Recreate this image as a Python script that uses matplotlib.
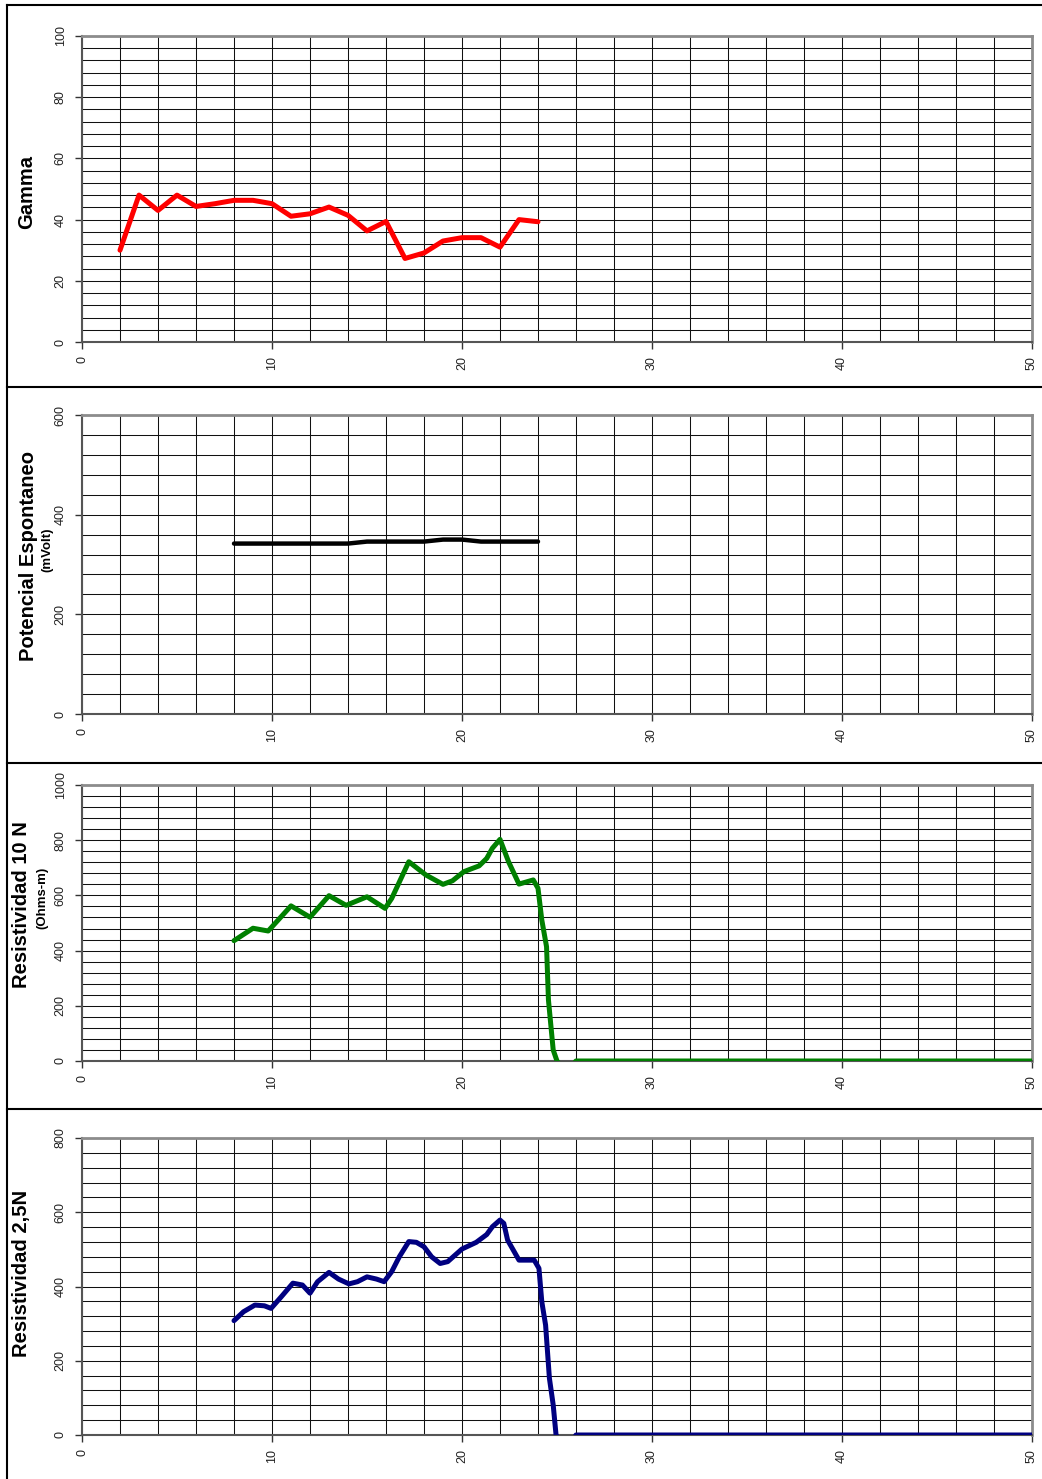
import matplotlib
matplotlib.use("Agg")
import matplotlib.pyplot as plt
from matplotlib.lines import Line2D
from matplotlib.ticker import MultipleLocator

plt.rcParams['font.family'] = ['Liberation Sans', 'DejaVu Sans']

gamma_depth = [2, 3, 4, 5, 6, 7, 8, 9, 10, 11, 12, 13, 14, 15, 16, 17, 18, 19, 20, 21, 22, 23, 24]
gamma = [30, 48, 43, 48, 44.3, 45.2, 46.3, 46.3, 45.2, 41.1, 41.9, 44.1, 41.4, 36.3, 39.4,
         27.3, 29.1, 33, 34.1, 34.1, 31, 40, 39.3]

sp_depth = [8, 9, 10, 11, 12, 13, 14, 15, 16, 17, 18, 19, 20, 21, 22, 23, 24]
sp = [342, 342, 342, 342, 342, 342, 342, 346, 346, 346, 346, 350, 350, 346, 346, 346, 346]

res10_depth = [8, 9, 9.8, 11, 12, 13, 13.9, 15, 15.95, 16.3,
               17.2, 18.1, 19, 19.5, 20.1, 20.9, 21.3, 21.6, 22, 22.45,
               23, 23.75, 24, 24.2, 24.45, 24.55, 24.8, 25, 25.5, 26,
               30, 35, 40, 45, 50]
res10 = [436, 481, 471, 562, 521, 599, 564, 595, 553, 589,
         722, 674, 640, 653, 686, 707, 734, 771, 803, 722,
         641, 656, 626, 511, 414, 221, 40, 0, -40, 0,
         0, 0, 0, 0, 0]

res25_depth = [8, 8.5, 9.1, 9.6, 9.95, 10.5, 11.1, 11.6, 12, 12.4,
               13, 13.5, 14.05, 14.5, 15, 15.5, 15.9, 16.3, 16.7, 17.2,
               17.6, 18, 18.4, 18.85, 19.25, 20, 20.75, 21.3, 21.6, 22,
               22.2, 22.4, 23, 23.8, 24.05, 24.2, 24.4, 24.6, 24.8, 24.95,
               25.5, 26, 30, 35, 40, 45, 50]
res25 = [308, 332, 350, 348, 341, 373, 409, 404, 382, 413,
         438, 420, 407, 413, 426, 420, 413, 440, 480, 521,
         519, 507, 480, 462, 467, 501, 519, 540, 561, 579,
         570, 525, 471, 471, 449, 359, 296, 153, 81, 0,
         -40, 0, 0, 0, 0, 0, 0]

W, H = 1042, 1479
fig = plt.figure(figsize=(W / 100, H / 100), dpi=100)


def px_axes(top, bottom, left=82, right=1032):
    return fig.add_axes([left / W, 1 - bottom / H, (right - left) / W, (bottom - top) / H])


panels = [
    dict(top=36, bottom=342, x=gamma_depth, y=gamma, color='#ff0000', lw=3.6, ymax=100, minor=4, major=20),
    dict(top=415, bottom=714, x=sp_depth, y=sp, color='#000000', lw=3.2, ymax=600, minor=40, major=200),
    dict(top=785, bottom=1061, x=res10_depth, y=res10, color='#008000', lw=3.6, ymax=1000, minor=40, major=200),
    dict(top=1138, bottom=1435, x=res25_depth, y=res25, color='#000080', lw=3.6, ymax=800, minor=40, major=200),
]

for p in panels:
    ax = px_axes(p['top'], p['bottom'])
    ax.plot(p['x'], p['y'], color=p['color'], lw=p['lw'],
            solid_joinstyle='round', solid_capstyle='round', zorder=3)
    ax.set_xlim(0, 50)
    ax.set_ylim(0, p['ymax'])
    ax.xaxis.set_major_locator(MultipleLocator(10))
    ax.xaxis.set_minor_locator(MultipleLocator(2))
    ax.yaxis.set_major_locator(MultipleLocator(p['major']))
    ax.yaxis.set_minor_locator(MultipleLocator(p['minor']))
    ax.grid(True, which='both', color='#111111', lw=0.75)
    ax.set_axisbelow(True)
    ax.tick_params(which='major', direction='out', length=5, width=1, color='#333333',
                   labelsize=9, labelcolor='#222222')
    ax.tick_params(which='minor', length=0)
    ax.tick_params(axis='y', pad=6)
    ax.tick_params(axis='x', pad=5)
    for lab in ax.get_yticklabels():
        lab.set_rotation(90)
        lab.set_va('center')
    for lab in ax.get_xticklabels():
        lab.set_rotation(90)
    for s in ['left', 'bottom']:
        ax.spines[s].set_color('#555555')
        ax.spines[s].set_linewidth(1.5)
    for s in ['top', 'right']:
        ax.spines[s].set_color('#8c8c8c')
        ax.spines[s].set_linewidth(2)


def ftext(x, y, s, size, **kw):
    fig.text(x / W, 1 - y / H, s, fontsize=size, fontweight='bold', rotation=90,
             ha='center', va='center', **kw)


ftext(27, 192, 'Gamma', 14.5)
ftext(29, 556, 'Potencial Espontaneo', 14.5)
ftext(47, 550, '(mVolt)', 9.5)
ftext(22, 905, 'Resistividad 10 N', 14.5)
ftext(42, 898, '(Ohms-m)', 9.5)
ftext(22, 1273, 'Resistividad 2,5N', 14.5)

# panel frames
for yb in [5, 387, 763, 1109]:
    fig.add_artist(Line2D([6.5 / W, 1.01], [1 - yb / H, 1 - yb / H], color='black', lw=1.5,
                          transform=fig.transFigure))
fig.add_artist(Line2D([6.5 / W, 6.5 / W], [1 - 5 / H, -0.01], color='black', lw=1.5,
                      transform=fig.transFigure))

fig.savefig('out.png', dpi=100)
